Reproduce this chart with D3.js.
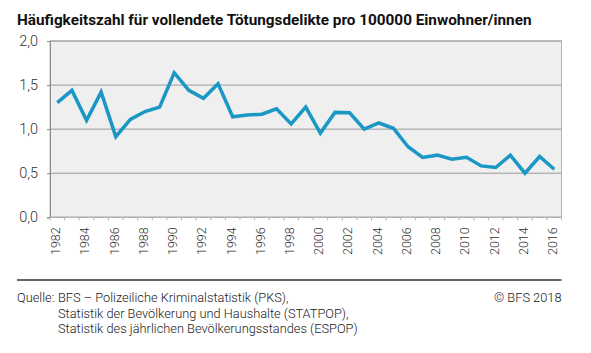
<!DOCTYPE html>
<html>
<head>
<meta charset="utf-8">
<script src="https://cdn.jsdelivr.net/npm/d3@7"></script>
<style>
  body { margin: 0; background: #fff; }
  svg { display: block; font-family: Roboto, sans-serif; }
</style>
</head>
<body>
<svg id="chart" width="591" height="353"></svg>
<script>
// データ
var years = d3.range(1982, 2017);
var values = [1.30, 1.44, 1.10, 1.42, 0.915, 1.11, 1.20, 1.25, 1.64, 1.44,
              1.35, 1.515, 1.14, 1.16, 1.17, 1.23, 1.06, 1.25, 0.955, 1.19,
              1.185, 1.00, 1.07, 1.01, 0.80, 0.68, 0.705, 0.66, 0.68, 0.583,
              0.565, 0.705, 0.50, 0.69, 0.545];
var yTicks = [0, 0.5, 1.0, 1.5, 2.0];
var titleText = "Häufigkeitszahl für vollendete Tötungsdelikte pro 100000 Einwohner/innen";
var sourceLines = ["BFS – Polizeiliche Kriminalstatistik (PKS),",
                   "Statistik der Bevölkerung und Haushalte (STATPOP),",
                   "Statistik des jährlichen Bevölkerungsstandes (ESPOP)"];
var copyright = "© BFS 2018";

var svg = d3.select("#chart");

var plotLeft = 50, plotRight = 561.5, plotTop = 41, plotBottom = 217.3;

var x = d3.scaleBand()
    .domain(years)
    .range([plotLeft, plotRight]);

var y = d3.scaleLinear()
    .domain([0, 2])
    .range([plotBottom, plotTop]);

// タイトル
svg.append("text")
    .attr("x", 17)
    .attr("y", 25)
    .attr("font-size", "15.3px")
    .attr("font-weight", 700)
    .attr("fill", "#111")
    .text(titleText);

// 背景
svg.append("rect")
    .attr("x", plotLeft)
    .attr("y", plotTop)
    .attr("width", plotRight - plotLeft)
    .attr("height", plotBottom - plotTop)
    .attr("fill", "#efefef")
    .attr("stroke", "#b5b5b5")
    .attr("stroke-width", 1);

// 横の目盛線
svg.append("g")
    .selectAll("line")
    .data(yTicks)
    .enter()
    .append("line")
    .attr("x1", plotLeft)
    .attr("x2", plotRight)
    .attr("y1", function(d){ return y(d); })
    .attr("y2", function(d){ return y(d); })
    .attr("stroke", "#9a9a9a")
    .attr("stroke-width", 1);

// 縦の目盛
var yAxis = svg.append("g")
    .attr("transform", "translate(" + plotLeft + ",0)")
    .call(d3.axisLeft(y)
        .tickValues(yTicks)
        .tickSize(3)
        .tickPadding(9)
        .tickFormat(function(d){ return d3.format(".1f")(d).replace(".", ","); }));
yAxis.select(".domain").attr("stroke", "#8a8a8a");
yAxis.selectAll(".tick line").attr("stroke", "#8a8a8a");
yAxis.selectAll("text")
    .attr("font-family", "Roboto, sans-serif")
    .attr("font-size", "14.5px")
    .attr("font-weight", 300)
    .attr("fill", "#333");

// 横の目盛 (年)
var xAxis = svg.append("g")
    .attr("transform", "translate(0," + plotBottom + ")");
xAxis.append("line")
    .attr("x1", plotLeft).attr("x2", plotRight)
    .attr("stroke", "#b5b5b5");
xAxis.selectAll(".yt")
    .data(years.concat([2017]))
    .enter()
    .append("line")
    .attr("class", "yt")
    .attr("x1", function(d){ return d === 2017 ? plotRight : x(d); })
    .attr("x2", function(d){ return d === 2017 ? plotRight : x(d); })
    .attr("y1", 0)
    .attr("y2", 3)
    .attr("stroke", "#b5b5b5");
xAxis.selectAll(".yl")
    .data(years.filter(function(d){ return d % 2 === 0; }))
    .enter()
    .append("text")
    .attr("class", "yl")
    .attr("transform", function(d){
        return "translate(" + (x(d) + x.bandwidth() / 2 - 1.5) + ",10) rotate(-90)";
    })
    .attr("dy", "0.35em")
    .attr("text-anchor", "end")
    .attr("font-size", "12.5px")
    .attr("font-weight", 300)
    .attr("fill", "#333")
    .text(function(d){ return d; });

// 折れ線
var line = d3.line()
    .x(function(d, i){ return x(years[i]) + x.bandwidth() / 2; })
    .y(function(d){ return y(d); });

svg.append("path")
    .datum(values)
    .attr("d", line)
    .attr("fill", "none")
    .attr("stroke", "#1a97c4")
    .attr("stroke-width", 3.5)
    .attr("stroke-linejoin", "miter");

// 区切り線
svg.append("line")
    .attr("x1", 17).attr("x2", plotRight)
    .attr("y1", 280).attr("y2", 280)
    .attr("stroke", "#333")
    .attr("stroke-width", 1.5);

// 出典
var src = svg.append("g")
    .attr("font-size", "12.8px")
    .attr("font-weight", 300)
    .attr("fill", "#222");
src.append("text")
    .attr("x", 17).attr("y", 302)
    .text("Quelle:");
src.selectAll(".sl")
    .data(sourceLines)
    .enter()
    .append("text")
    .attr("class", "sl")
    .attr("x", 58)
    .attr("y", function(d, i){ return 302 + i * 15.5; })
    .text(function(d){ return d; });
src.append("text")
    .attr("x", plotRight)
    .attr("y", 302)
    .attr("text-anchor", "end")
    .text(copyright);
</script>
</body>
</html>
